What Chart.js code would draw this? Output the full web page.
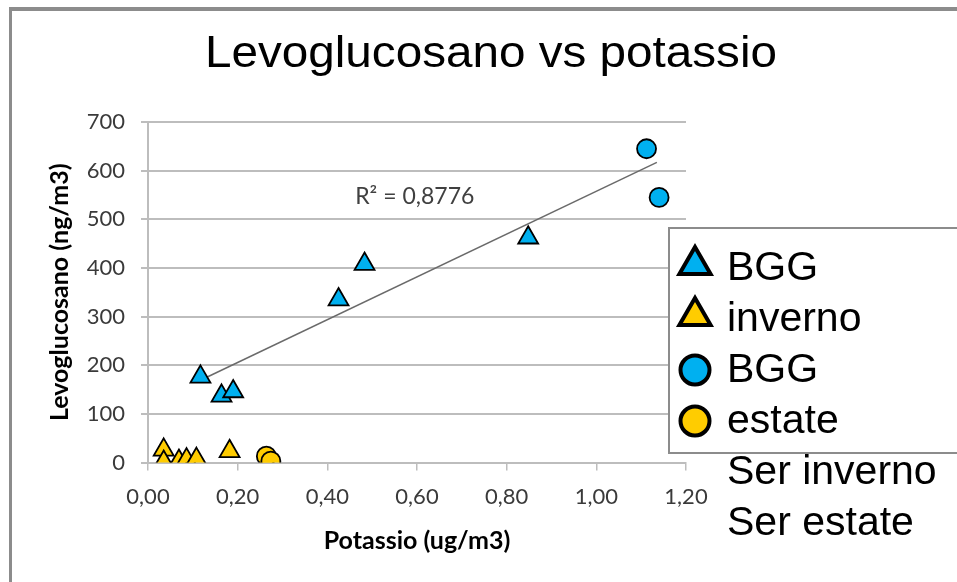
<!DOCTYPE html>
<html>
<head>
<meta charset="utf-8">
<title>Levoglucosano vs potassio</title>
<script src="https://cdn.jsdelivr.net/npm/chart.js@4.4.1/dist/chart.umd.min.js"></script>
<style>
    html, body { margin: 0; padding: 0; background: #fff; }
    canvas { display: block; }
</style>
</head>
<body>
<canvas id="scatterChart" width="957" height="582"></canvas>
<script>
// ==================== DATA ====================

const bggTriX = [0.117, 0.164, 0.190, 0.425, 0.483, 0.848];
const bggTriY = [176, 137, 146, 335, 408, 462];

const invernoX = [0.035, 0.035, 0.069, 0.086, 0.108, 0.182];
const invernoY = [26, 1, 3, 6, 7, 23];

const bggCircX = [1.112, 1.140];
const bggCircY = [645, 545];

const estateX = [0.264, 0.274];
const estateY = [13, 3];

// trend line end points as drawn in the picture
const trendX = [0.117, 1.135];
const trendY = [169, 617];

const xTicks = [0, 0.2, 0.4, 0.6, 0.8, 1.0, 1.2];
const yTicks = [0, 100, 200, 300, 400, 500, 600, 700];

const legendLabels = ['BGG', 'inverno', 'BGG', 'estate', 'Ser inverno', 'Ser estate'];
const chartTitle = 'Levoglucosano vs potassio';
const r2Label = 'R² = 0,8776';
const r2At = { x: 0.595, y: 531 };

const BLUE = '#00b0f0';
const YELLOW = '#ffcc00';
const GRID = '#bdbdbd';

function toPoints(xs, ys) {
    return xs.map((x, i) => ({ x: x, y: ys[i] }));
}

// ==================== PLUGINS ====================

const frameAndTitle = {
    id: 'frameAndTitle',
    beforeDraw(chart) {
        const ctx = chart.ctx;
        ctx.save();
        ctx.fillStyle = '#fff';
        ctx.fillRect(0, 0, chart.width, chart.height);
        ctx.fillStyle = '#8c8c8c';
        ctx.fillRect(9, 7, chart.width - 9, 4);
        ctx.fillRect(9, 7, 3, chart.height - 7);

        // title is a bit wider than plain Arial in the original, stretch it
        ctx.fillStyle = '#000';
        ctx.font = '44px "Liberation Sans", Arial, sans-serif';
        ctx.textAlign = 'center';
        ctx.textBaseline = 'alphabetic';
        const w = ctx.measureText(chartTitle).width;
        ctx.translate(491, 67);
        ctx.scale(572 / w, 1);
        ctx.fillText(chartTitle, 0, 0);
        ctx.restore();
    },
    afterDatasetsDraw(chart) {
        const ctx = chart.ctx;
        const xs = chart.scales.x, ys = chart.scales.y;
        ctx.save();
        ctx.fillStyle = '#404040';
        ctx.font = '23px Lato, "Open Sans", sans-serif';
        ctx.textAlign = 'center';
        ctx.textBaseline = 'alphabetic';
        ctx.fillText(r2Label, xs.getPixelForValue(r2At.x), ys.getPixelForValue(r2At.y));
        ctx.restore();
    }
};

const sideLegend = {
    id: 'sideLegend',
    afterDraw(chart) {
        const ctx = chart.ctx;
        ctx.save();
        ctx.fillStyle = '#fff';
        ctx.fillRect(669, 228, 300, 225);
        ctx.strokeStyle = '#8c8c8c';
        ctx.lineWidth = 2;
        ctx.strokeRect(669, 228, 300, 225);

        ctx.font = '41px "Liberation Sans", Arial, sans-serif';
        ctx.textAlign = 'left';
        ctx.textBaseline = 'alphabetic';

        legendLabels.forEach((label, i) => {
            const base = 280 + i * 51;
            const ds = chart.data.datasets[i];
            if (ds && ds.pointStyle) {
                const tri = ds.pointStyle === 'triangle';
                ctx.fillStyle = ds.backgroundColor;
                ctx.strokeStyle = '#000';
                ctx.lineWidth = 4;
                Chart.helpers.drawPoint(ctx, {
                    pointStyle: ds.pointStyle,
                    radius: tri ? 18 : 14.5,
                    rotation: 0,
                    borderWidth: 4
                }, 695, tri ? base - 15 : base - 12);
            }
            ctx.fillStyle = '#000';
            ctx.fillText(label, 727, base);
        });
        ctx.restore();
    }
};

// ==================== CHART ====================

function buildChart() {
    const ctx = document.getElementById('scatterChart').getContext('2d');

    return new Chart(ctx, {
        type: 'scatter',
        data: {
            datasets: [
                {
                    label: legendLabels[0],
                    data: toPoints(bggTriX, bggTriY),
                    pointStyle: 'triangle',
                    pointRadius: 11.5,
                    backgroundColor: BLUE,
                    borderColor: '#000',
                    borderWidth: 1.8,
                    order: 4
                },
                {
                    label: legendLabels[1],
                    data: toPoints(invernoX, invernoY),
                    pointStyle: 'triangle',
                    pointRadius: 11.5,
                    backgroundColor: YELLOW,
                    borderColor: '#000',
                    borderWidth: 1.8,
                    order: 3
                },
                {
                    label: legendLabels[2],
                    data: toPoints(bggCircX, bggCircY),
                    pointStyle: 'circle',
                    pointRadius: 9.5,
                    backgroundColor: BLUE,
                    borderColor: '#000',
                    borderWidth: 1.8,
                    order: 2
                },
                {
                    label: legendLabels[3],
                    data: toPoints(estateX, estateY),
                    pointStyle: 'circle',
                    pointRadius: 9.5,
                    backgroundColor: YELLOW,
                    borderColor: '#000',
                    borderWidth: 1.8,
                    order: 1
                },
                {
                    label: 'trend',
                    data: toPoints(trendX, trendY),
                    showLine: true,
                    pointRadius: 0,
                    borderColor: '#6a6a6a',
                    borderWidth: 1.5,
                    order: 10
                }
            ]
        },
        options: {
            responsive: false,
            animation: false,
            layout: { padding: { top: 122, right: 271, bottom: 0, left: 0 } },
            plugins: {
                legend: { display: false },
                tooltip: { enabled: false },
                title: { display: false }
            },
            scales: {
                x: {
                    type: 'linear',
                    min: 0,
                    max: 1.2,
                    afterFit: s => { s.height = 119.5; },
                    afterBuildTicks: s => { s.ticks = xTicks.map(v => ({ value: v })); },
                    grid: { drawOnChartArea: false, drawTicks: true, tickLength: 8, color: GRID, lineWidth: 1.5 },
                    border: { display: true, color: GRID, width: 2 },
                    ticks: {
                        color: '#3a3a3a',
                        padding: 13,
                        font: { family: 'Lato', size: 22 },
                        callback: v => v.toFixed(2).replace('.', ',')
                    },
                    title: {
                        display: true,
                        text: 'Potassio (ug/m3)',
                        color: '#000',
                        font: { family: 'Lato', size: 25, weight: 'bold' },
                        padding: { top: 0, bottom: 26 }
                    }
                },
                y: {
                    type: 'linear',
                    min: 0,
                    max: 700,
                    afterFit: s => { s.width = 148; },
                    afterBuildTicks: s => { s.ticks = yTicks.map(v => ({ value: v })); },
                    grid: { color: GRID, lineWidth: 2, tickLength: 7 },
                    border: { display: true, color: GRID, width: 2 },
                    ticks: {
                        color: '#3a3a3a',
                        padding: 16,
                        font: { family: 'Lato', size: 22 },
                        callback: v => String(v)
                    },
                    title: {
                        display: true,
                        text: 'Levoglucosano (ng/m3)',
                        color: '#000',
                        font: { family: 'Lato', size: 25, weight: 'bold' },
                        padding: { top: 45, bottom: 0 }
                    }
                }
            }
        },
        plugins: [frameAndTitle, sideLegend]
    });
}

buildChart();
</script>
</body>
</html>
